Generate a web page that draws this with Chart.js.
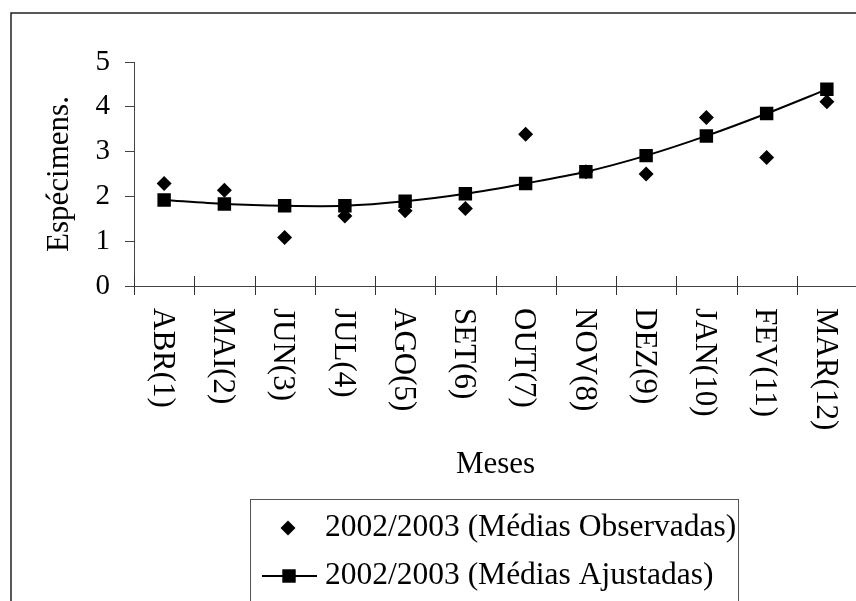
<!DOCTYPE html>
<html>
<head>
<meta charset="utf-8">
<title>Espécimens por mês</title>
<script src="https://cdn.jsdelivr.net/npm/chart.js"></script>
<style>
  body { margin: 0; overflow: hidden; background: #fff; }
  canvas { display: block; }
</style>
</head>
<body>
<canvas id="grafico" width="870" height="640"></canvas>
<script>
// dados
const meses = ['ABR(1)', 'MAI(2)', 'JUN(3)', 'JUL(4)', 'AGO(5)', 'SET(6)',
               'OUT(7)', 'NOV(8)', 'DEZ(9)', 'JAN(10)', 'FEV(11)', 'MAR(12)'];
const observadas = [2.29, 2.14, 1.08, 1.56, 1.68, 1.73, 3.39, 2.55, 2.50, 3.76, 2.87, 4.11];
const ajustadas  = [1.92, 1.83, 1.79, 1.79, 1.89, 2.06, 2.29, 2.55, 2.91, 3.35, 3.85, 4.39];
const yTicks = [0, 1, 2, 3, 4, 5];

const serie1 = '2002/2003 (Médias Observadas)';
const serie2 = '2002/2003 (Médias Ajustadas)';

const fonte = '"Liberation Serif", "Times New Roman", serif';

// moldura, marcas do eixo x, rótulos girados e legenda
const extras = {
  id: 'extras',
  beforeDraw(chart) {
    const ctx = chart.ctx;
    ctx.save();
    ctx.strokeStyle = '#222';
    ctx.lineWidth = 1.5;
    ctx.strokeRect(11, 13, 1000, 1000);
    ctx.restore();
  },
  afterDraw(chart) {
    const ctx = chart.ctx;
    const x = chart.scales.x, y = chart.scales.y;
    const meio = (x.getPixelForValue(1) - x.getPixelForValue(0)) / 2;
    const base = y.getPixelForValue(0);

    ctx.save();
    ctx.strokeStyle = '#333';
    ctx.lineWidth = 1;
    ctx.beginPath();
    for (let i = 0; i <= meses.length; i++) {
      const px = Math.round(x.getPixelForValue(i) - meio) + 0.5;
      ctx.moveTo(px, base - 10);
      ctx.lineTo(px, base + 9);
    }
    ctx.stroke();

    // rótulos lidos de cima para baixo
    ctx.fillStyle = '#000';
    ctx.font = '31px ' + fonte;
    ctx.textAlign = 'left';
    ctx.textBaseline = 'middle';
    meses.forEach(function (m, i) {
      ctx.save();
      ctx.translate(x.getPixelForValue(i) - 2, base + 22);
      ctx.rotate(Math.PI / 2);
      ctx.fillText(m, 0, 0);
      ctx.restore();
    });

    // legenda
    ctx.strokeStyle = '#555';
    ctx.strokeRect(250.5, 499.5, 488, 200);

    const d1 = chart.data.datasets[1], d0 = chart.data.datasets[0];
    // losango
    const r1 = d1.pointRadius;
    ctx.beginPath();
    ctx.moveTo(288, 528 - r1);
    ctx.lineTo(288 + r1, 528);
    ctx.lineTo(288, 528 + r1);
    ctx.lineTo(288 - r1, 528);
    ctx.closePath();
    ctx.fill();
    // linha com quadrado
    ctx.strokeStyle = '#000';
    ctx.lineWidth = d0.borderWidth;
    ctx.beginPath();
    ctx.moveTo(262, 576);
    ctx.lineTo(317, 576);
    ctx.stroke();
    const s = Math.SQRT1_2 * d0.pointRadius;
    ctx.fillRect(289 - s, 576 - s, 2 * s, 2 * s);

    ctx.font = '31.5px ' + fonte;
    ctx.fillText(d1.label, 325, 528);
    ctx.fillText(d0.label, 325, 576);
    ctx.restore();
  }
};

new Chart(document.getElementById('grafico'), {
  type: 'line',
  data: {
    labels: meses,
    datasets: [{
      label: serie2,
      data: ajustadas,
      borderColor: '#000',
      backgroundColor: '#000',
      borderWidth: 2,
      tension: 0.3,
      pointStyle: 'rect',
      pointRadius: 9.5,
      pointBorderWidth: 0,
      order: 0
    }, {
      label: serie1,
      data: observadas,
      showLine: false,
      borderColor: '#000',
      backgroundColor: '#000',
      pointStyle: 'rectRot',
      pointRadius: 7.5,
      pointBorderWidth: 0,
      order: 1
    }]
  },
  options: {
    responsive: false,
    animation: false,
    layout: { padding: { left: 0, right: 13, top: 62, bottom: 157 } },
    plugins: { legend: { display: false }, tooltip: { enabled: false } },
    scales: {
      x: {
        offset: true,
        grid: { display: true, drawOnChartArea: false, drawTicks: false },
        border: { color: '#444', width: 1 },
        ticks: { display: false },
        title: {
          display: true, text: 'Meses', color: '#000', padding: 0,
          font: { family: fonte, size: 31 }
        },
        afterFit: function (scale) { scale.height = 197; }
      },
      y: {
        min: 0, max: 5,
        afterBuildTicks: function (scale) {
          scale.ticks = yTicks.map(function (v) { return { value: v }; });
        },
        grid: { drawOnChartArea: false, tickLength: 9, color: '#444' },
        border: { color: '#444', width: 1 },
        ticks: { color: '#000', padding: 15, font: { family: fonte, size: 29 } },
        title: {
          display: true, text: 'Espécimens.', color: '#000',
          padding: { top: 41, bottom: 0 },
          font: { family: fonte, size: 31 }
        },
        afterFit: function (scale) { scale.width = 134; }
      }
    }
  },
  plugins: [extras]
});
</script>
</body>
</html>
